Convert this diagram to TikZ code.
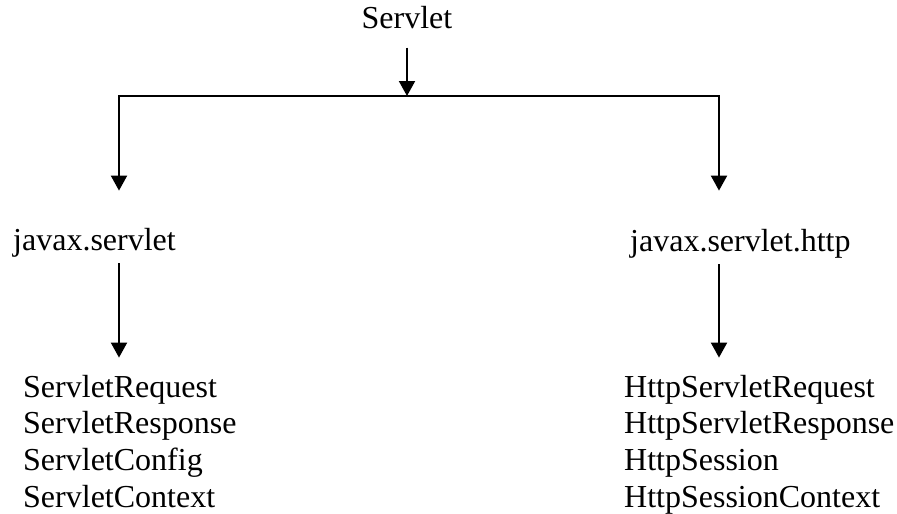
\documentclass[tikz,border=0pt]{standalone}
\usepackage{fontspec}
\setmainfont{Liberation Serif}
\usepackage{tikz}
\usetikzlibrary{positioning, arrows.meta}
\tikzset{
    pkgtext/.style={font=\fontsize{32}{36.7}\selectfont, inner sep=0pt, anchor=base west},
    pkgarrow/.style={-{Triangle[width=16pt, length=15pt]}, line width=2pt},
    busline/.style={line width=2pt}
}

\begin{document}
\begin{tikzpicture}[x=1pt, y=1pt]
    \path[fill=white] (0,0) rectangle (897,-514);
    % root and the two packages
    \node[pkgtext, anchor=base] (servlet) at (407,-28) {Servlet};
    \node[pkgtext] (jxs) at (13,-250) {javax.servlet};
    \node[pkgtext] (jxh) at (630,-251) {javax.servlet.http};
    % classes of each package
    \foreach \cls [count=\i] in {ServletRequest, ServletResponse, ServletConfig, ServletContext}
        \node[pkgtext] (sl\i) at (23,{-397-36.7*(\i-1)}) {\cls};
    \foreach \cls [count=\i] in {HttpServletRequest, HttpServletResponse, HttpSession, HttpSessionContext}
        \node[pkgtext] (hl\i) at (624,{-397-36.7*(\i-1)}) {\cls};
    % bus
    \coordinate (bus) at (407,-96);
    \coordinate (busl) at (119,-96);
    \coordinate (busr) at (719,-96);
    \draw[pkgarrow, shorten <=19pt] (servlet.south) -- (bus);
    \draw[busline, line cap=rect] (busl) -- (busr);
    \draw[pkgarrow, shorten >=37pt] (busl) -- (busl |- jxs.north);
    \draw[pkgarrow, shorten >=38pt] (busr) -- (busr |- jxh.north);
    \draw[pkgarrow, shorten <=6pt, shorten >=17pt] (jxs.south -| busl) -- (sl1.north -| busl);
    \draw[pkgarrow, shorten <=6pt, shorten >=17pt] (jxh.south -| busr) -- (hl1.north -| busr);
\end{tikzpicture}
\end{document}
